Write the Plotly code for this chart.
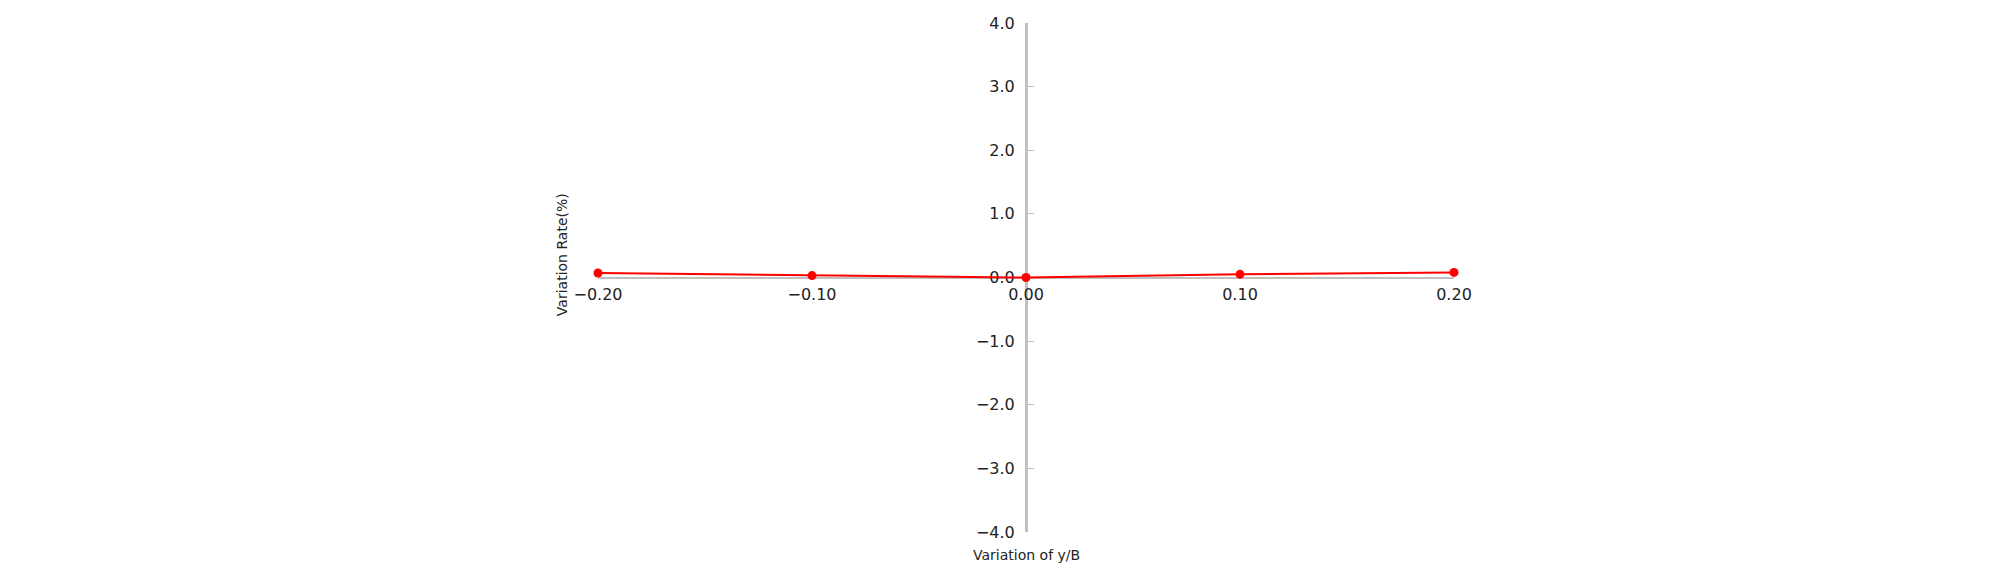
import plotly.graph_objects as go

# offset of y/B and the resulting variation rate (%)
yb_offset = [-0.20, -0.10, 0.00, 0.10, 0.20]
variation_rate = [0.07, 0.03, 0.00, 0.05, 0.08]

x_ticks = [-0.20, -0.10, 0.00, 0.10, 0.20]
y_ticks = [-4.0, -3.0, -2.0, -1.0, 0.0, 1.0, 2.0, 3.0, 4.0]

font_family = "DejaVu Sans, sans-serif"
axis_grey = "#c0c0c0"

fig = go.Figure()
fig.add_trace(go.Scatter(
    x=yb_offset, y=variation_rate,
    mode="lines+markers",
    line=dict(color="#ff0000", width=2),
    marker=dict(color="#ff0000", size=9),
    cliponaxis=False,
    showlegend=False,
))

# page body has an 8px margin, so the figure is a bit smaller than the window
fig.update_layout(
    width=1992, height=569,
    margin=dict(l=590, r=546, t=15, b=45),
    paper_bgcolor="white", plot_bgcolor="white",
    font=dict(family=font_family, size=16, color="#222222"),
    # axes cross at the origin, titles sit at the plot edges
    xaxis=dict(
        range=[-0.2, 0.2], anchor="free", position=0.5,
        tickvals=x_ticks, tickformat=".2f",
        showline=True, linecolor=axis_grey, linewidth=2,
        showgrid=False, zeroline=False, ticks="",
        ticklabelstandoff=2,
        layer="below traces", automargin=False,
    ),
    yaxis=dict(
        range=[-4, 4], anchor="free", position=0.5,
        tickvals=y_ticks, tickformat=".1f",
        showline=True, linecolor=axis_grey, linewidth=3,
        ticks="inside", ticklen=6, tickcolor=axis_grey,
        ticklabelstandoff=7,
        showgrid=False, zeroline=False,
        layer="below traces", automargin=False,
    ),
    annotations=[
        dict(text="Variation of y/B", xref="paper", yref="paper",
             x=0.5, y=-0.045, xanchor="center", yanchor="middle",
             showarrow=False, font=dict(size=14)),
        dict(text="Variation Rate(%)", xref="paper", yref="paper",
             x=-0.042, y=0.544, xanchor="center", yanchor="middle",
             textangle=-90, showarrow=False, font=dict(size=14)),
    ],
)

fig.write_html("out.html")
